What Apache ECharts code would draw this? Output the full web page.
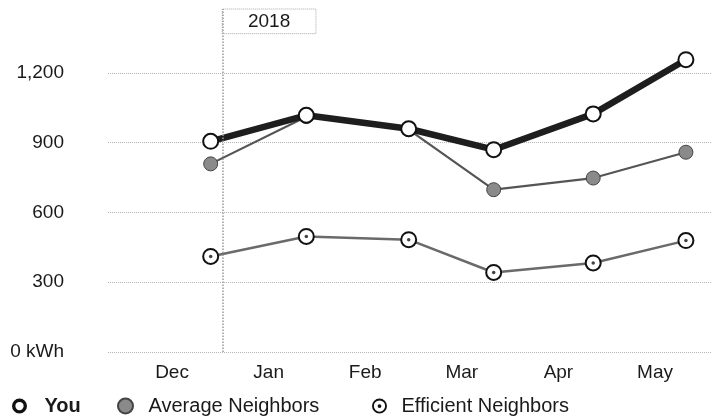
<!DOCTYPE html>
<html>
<head>
<meta charset="utf-8">
<script src="https://cdn.jsdelivr.net/npm/echarts@6/dist/echarts.min.js"></script>
<style>
	html, body { margin: 0; padding: 0; background: #fff; }
	#chart { width: 713px; height: 416px; }
</style>
</head>
<body>
<div id="chart"></div>
<script type="text/javascript">
	// month labels sit at whole numbers (mid-month), readings fall between them
	var months = ['Dec', 'Jan', 'Feb', 'Mar', 'Apr', 'May'];
	var readPos = [0.40, 1.39, 2.45, 3.33, 4.36, 5.32];
	var you = [906, 1018, 960, 870, 1024, 1257];
	var avgNeighbors = [809, 1012, 956, 698, 748, 859];
	var effNeighbors = [411, 497, 483, 342, 383, 479];
	var yTicks = [0, 300, 600, 900, 1200];
	var yearMark = 0.52; // Jan 1
	var yearLabel = '2018';

	function pairs(vals) {
		return vals.map(function (v, i) { return [readPos[i], v]; });
	}

	var font = '"Liberation Sans", Arial, sans-serif';
	var ringIcon = 'path://M10,0A10,10,0,1,1,10,20A10,10,0,1,1,10,0ZM10,4.5A5.5,5.5,0,1,0,10,15.5A5.5,5.5,0,1,0,10,4.5Z';
	var dotRingIcon = 'path://M10,0A10,10,0,1,1,10,20A10,10,0,1,1,10,0ZM10,2.5A7.5,7.5,0,1,0,10,17.5A7.5,7.5,0,1,0,10,2.5ZM10,7.5A2.5,2.5,0,1,1,10,12.5A2.5,2.5,0,1,1,10,7.5Z';

	var myChart = echarts.init(document.getElementById('chart'));
	var legendBase = {
		top: 396,
		padding: 0,
		itemWidth: 16,
		itemHeight: 15,
		selectedMode: false,
		orient: 'horizontal'
	};
	var option = {
		animation: false,
		textStyle: { fontFamily: font },
		grid: { left: 108, right: 1, top: 9, bottom: 64 },
		legend: [
			Object.assign({}, legendBase, {
				left: 12,
				data: [{ name: 'You', icon: ringIcon }],
				textStyle: { fontSize: 20, color: '#1a1a1a', fontWeight: 'bold', fontFamily: font, padding: [0, 0, 0, 12] }
			}),
			Object.assign({}, legendBase, {
				left: 117,
				data: [{ name: 'Average Neighbors', icon: 'circle' }],
				textStyle: { fontSize: 20, color: '#1a1a1a', fontFamily: font, padding: [0, 0, 0, 10] }
			}),
			Object.assign({}, legendBase, {
				left: 372,
				data: [{ name: 'Efficient Neighbors', icon: dotRingIcon }],
				textStyle: { fontSize: 20, color: '#1a1a1a', fontFamily: font, padding: [0, 0, 0, 9] }
			})
		],
		xAxis: {
			type: 'value',
			min: -0.663,
			max: 5.59,
			axisLine: { show: false },
			axisTick: { show: false },
			splitLine: { show: false },
			axisLabel: {
				customValues: months.map(function (m, i) { return i; }),
				formatter: function (v) { return months[Math.round(v)] || ''; },
				fontSize: 19,
				color: '#1a1a1a',
				margin: 11
			}
		},
		yAxis: {
			type: 'value',
			min: 0,
			max: 1475,
			interval: 300,
			axisLine: { show: false },
			axisTick: { show: false },
			axisLabel: {
				showMaxLabel: false,
				fontSize: 19,
				color: '#1a1a1a',
				margin: 44,
				formatter: function (v) {
					if (yTicks.indexOf(v) < 0) return '';
					if (v === 0) return '0 kWh';
					return v.toLocaleString('en-US');
				}
			},
			splitLine: {
				lineStyle: {
					type: 'dotted',
					width: 1,
					color: ['#b5b5b5', '#b5b5b5', '#b5b5b5', '#b5b5b5', '#b5b5b5', 'rgba(0,0,0,0)']
				}
			}
		},
		series: [
			{
				name: 'Efficient Neighbors',
				type: 'line',
				data: pairs(effNeighbors),
				symbol: 'emptyCircle',
				symbolSize: 15,
				lineStyle: { color: '#6a6a6a', width: 2.5 },
				itemStyle: { color: '#111', borderWidth: 2 },
				z: 2,
				markLine: {
					silent: true,
					symbol: 'none',
					label: { show: false },
					lineStyle: { type: 'dotted', color: '#9a9a9a', width: 1.5 },
					data: [{ xAxis: yearMark }]
				},
				markArea: {
					silent: true,
					itemStyle: { color: '#fff', borderColor: '#a8a8a8', borderWidth: 1, borderType: 'dotted' },
					label: { show: true, position: 'inside', color: '#1a1a1a', fontSize: 19, fontFamily: font },
					data: [[{ name: yearLabel, xAxis: yearMark, yAxis: 1369 }, { xAxis: 1.49, yAxis: 1475 }]]
				}
			},
			{
				// centre dots of the efficient markers
				name: 'effDots',
				type: 'scatter',
				data: pairs(effNeighbors),
				symbol: 'circle',
				symbolSize: 3.5,
				itemStyle: { color: '#111' },
				silent: true,
				z: 5
			},
			{
				name: 'Average Neighbors',
				type: 'line',
				data: pairs(avgNeighbors),
				symbol: 'circle',
				symbolSize: 14,
				lineStyle: { color: '#555', width: 2.2 },
				itemStyle: { color: '#8a8a8a', borderColor: '#444', borderWidth: 1 },
				z: 3
			},
			{
				name: 'You',
				type: 'line',
				data: pairs(you),
				symbol: 'emptyCircle',
				symbolSize: 15,
				lineStyle: { color: '#1e1e1e', width: 6.5 },
				itemStyle: { color: '#111', borderWidth: 4 },
				z: 4
			}
		]
	};
	myChart.setOption(option);
</script>
</body>
</html>
